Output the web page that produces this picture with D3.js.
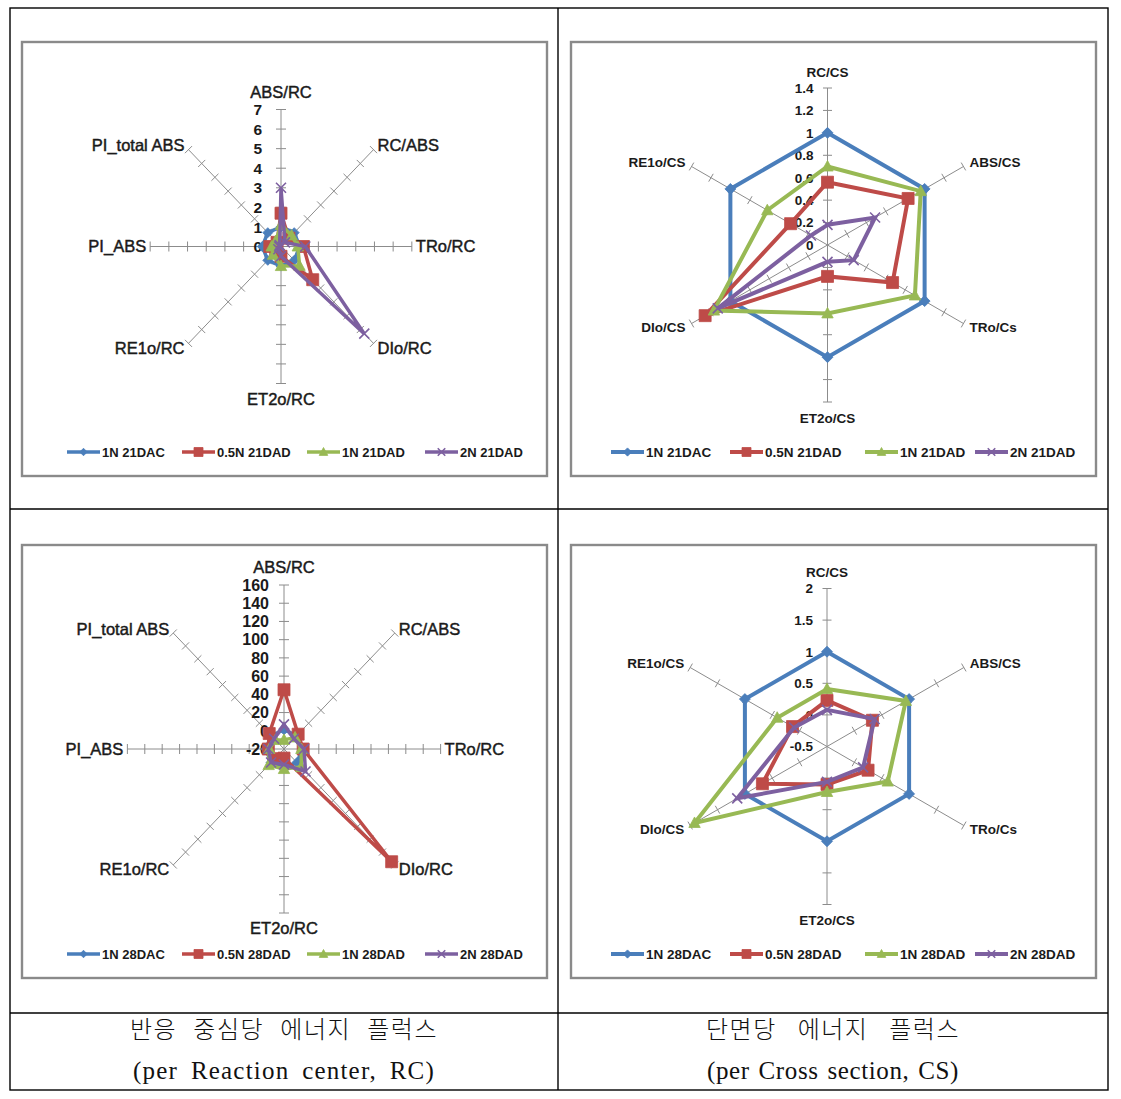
<!DOCTYPE html>
<html>
<head>
<meta charset="utf-8">
<script src="https://cdn.jsdelivr.net/npm/d3@7"></script>
<style>
  body { margin: 0; background: #fff; }
  svg { display: block; }
</style>
</head>
<body>
<svg id="chart" width="1121" height="1099"></svg>
<script>
// ---------------- DATA ----------------
const rcAxes = ["ABS/RC", "RC/ABS", "TRo/RC", "DIo/RC", "ET2o/RC", "RE1o/RC", "PI_ABS", "PI_total ABS"];
const csAxes = ["RC/CS", "ABS/CS", "TRo/Cs", "ET2o/CS", "DIo/CS", "RE1o/CS"];

const legend21 = ["1N 21DAC", "0.5N 21DAD", "1N 21DAD", "2N 21DAD"];
const legend28 = ["1N 28DAC", "0.5N 28DAD", "1N 28DAD", "2N 28DAD"];

const rcTicks21 = [0, 1, 2, 3, 4, 5, 6, 7];
const csTicks21 = [0, 0.2, 0.4, 0.6, 0.8, 1, 1.2, 1.4];
const rcTicks28 = [-20, 0, 20, 40, 60, 80, 100, 120, 140, 160];
const csTicks28 = [-0.5, 0, 0.5, 1, 1.5, 2];

// per reaction centre, 21 days
const rc21_1N_DAC  = [1, 1, 1, 1, 1, 1, 1, 1];
const rc21_05N_DAD = [1.7, 0.6, 1.2, 2.4, 0.5, 0.4, 0.6, 0.3];
const rc21_1N_DAD  = [1.1, 0.8, 0.9, 1.4, 1.0, 0.6, 0.5, 0.4];
const rc21_2N_DAD  = [3.0, 0.3, 1.3, 6.3, 0.5, 0.2, 0.1, 0.1];

// per cross section, 21 days
const cs21_1N_DAC  = [1, 1, 1, 1, 1, 1];
const cs21_05N_DAD = [0.56, 0.83, 0.67, 0.28, 1.26, 0.38];
const cs21_1N_DAD  = [0.70, 0.96, 0.90, 0.61, 1.17, 0.62];
const cs21_2N_DAD  = [0.18, 0.49, 0.27, 0.15, 1.13, 0.17];

// per reaction centre, 28 days
const rc28_1N_DAC  = [1, 1, 1, 1, 1, 1, 1, 1];
const rc28_05N_DAD = [45, 3, 2, 155, -10, -5, -2, 4];
const rc28_1N_DAD  = [-10, -2, 0, 8, 2, 5, -3, -6];
const rc28_2N_DAD  = [7, -4, 3, 15, -3, 1, -2, -4];

// per cross section, 28 days
const cs28_1N_DAC  = [1, 1, 1, 1, 1, 1];
const cs28_05N_DAD = [0.23, 0.33, 0.25, 0.10, 0.68, 0.13];
const cs28_1N_DAD  = [0.41, 0.94, 0.61, 0.22, 1.92, 0.41];
const cs28_2N_DAD  = [0.08, 0.37, 0.16, 0.06, 1.14, 0.10];

const captionLeft  = ["반응 중심당 에너지 플럭스", "(per Reaction center, RC)"];
const captionRight = ["단면당 에너지 플럭스", "(per Cross section, CS)"];

// ---------------- STYLE ----------------
const seriesColors = ["#4A7EBB", "#BE4B48", "#98B954", "#7D60A0"];
const markerTypes  = ["diamond", "square", "triangle", "x"];
const axisColor = "#8c8c8c";
const textColor = "#1a1a1a";
const sansFont = "Liberation Sans, Arial, sans-serif";

const svg = d3.select("#chart");

// ---------------- TABLE ----------------
const table = svg.append("g").attr("stroke", "#000").attr("stroke-width", 1.4).attr("fill", "none");
table.append("rect").attr("x", 10).attr("y", 8).attr("width", 1098).attr("height", 1082);
table.append("line").attr("x1", 558).attr("x2", 558).attr("y1", 8).attr("y2", 1090);
table.append("line").attr("x1", 10).attr("x2", 1108).attr("y1", 509).attr("y2", 509);
table.append("line").attr("x1", 10).attr("x2", 1108).attr("y1", 1013).attr("y2", 1013);

// ---------------- MARKERS ----------------
function markerPath(type, s) {
  if (type === "diamond") return `M0,${-s}L${s},0L0,${s}L${-s},0Z`;
  if (type === "square") return `M${-s},${-s}H${s}V${s}H${-s}Z`;
  if (type === "triangle") return `M0,${-s}L${s * 0.95},${s * 0.75}L${-s * 0.95},${s * 0.75}Z`;
  return `M${-s},${-s}L${s},${s}M${s},${-s}L${-s},${s}`;
}
function drawMarker(g, type, color, x, y, s) {
  const p = g.append("path").attr("d", markerPath(type, s)).attr("transform", `translate(${x},${y})`);
  if (type === "x") p.attr("fill", "none").attr("stroke", color).attr("stroke-width", 1.6);
  else p.attr("fill", color).attr("stroke", color).attr("stroke-width", 0.8);
}

// ---------------- RADAR ----------------
function drawRadar(cfg) {
  const g = svg.append("g");
  g.append("rect")
    .attr("x", cfg.frame[0]).attr("y", cfg.frame[1])
    .attr("width", cfg.frame[2] - cfg.frame[0]).attr("height", cfg.frame[3] - cfg.frame[1])
    .attr("fill", "#fff").attr("stroke", "#8a8a8a").attr("stroke-width", 2.4);

  const n = cfg.axes.length;
  const rScale = d3.scaleLinear().domain(d3.extent(cfg.ticks)).range([0, cfg.R]);
  const ang = i => i * 2 * Math.PI / n;
  const pt = (v, i) => [cfg.cx + cfg.sx * rScale(v) * Math.sin(ang(i)), cfg.cy - rScale(v) * Math.cos(ang(i))];
  const maxV = d3.max(cfg.ticks), minV = d3.min(cfg.ticks);

  const ax = g.append("g").attr("stroke", axisColor).attr("stroke-width", 1).attr("fill", "none");
  cfg.axes.forEach((a, i) => {
    const e = pt(maxV, i);
    ax.append("line").attr("x1", cfg.cx).attr("y1", cfg.cy).attr("x2", e[0]).attr("y2", e[1]);
    const th = ang(i);
    const dx = Math.cos(th), dy = Math.sin(th);
    cfg.ticks.forEach(t => {
      if (t === minV) return;
      const p = pt(t, i);
      const h = cfg.tickLen;
      ax.append("line")
        .attr("x1", p[0] - dx * h).attr("y1", p[1] - dy * h)
        .attr("x2", p[0] + dx * h).attr("y2", p[1] + dy * h);
    });
  });

  const tl = g.append("g").attr("font-family", sansFont).attr("font-size", cfg.tickSize)
    .attr("font-weight", "bold").attr("fill", textColor).attr("text-anchor", "end");
  cfg.ticks.forEach(t => {
    const p = pt(t, 0);
    tl.append("text").attr("x", cfg.cx - cfg.tickGap).attr("y", p[1]).attr("dy", "0.36em").text(String(t));
  });

  const lg = g.append("g").attr("font-family", sansFont).attr("font-size", cfg.labelSize)
    .attr("font-weight", cfg.labelWeight).attr("fill", textColor)
    .attr("stroke", textColor).attr("stroke-width", cfg.labelStroke);
  cfg.axes.forEach((a, i) => {
    const e = pt(maxV, i);
    const s = Math.sin(ang(i)), c = Math.cos(ang(i));
    let x, y, anchor;
    if (Math.abs(s) < 0.01) {
      anchor = "middle"; x = e[0];
      y = c > 0 ? e[1] - cfg.topOff : e[1] + cfg.botOff;
    } else {
      anchor = s > 0 ? "start" : "end";
      x = e[0] + (s > 0 ? cfg.sideGap : -cfg.sideGap);
      y = e[1] - c * cfg.diagOff;
    }
    lg.append("text").attr("x", x).attr("y", y).attr("dy", "0.36em").attr("text-anchor", anchor).text(a);
  });

  const line = d3.line().x(d => d[0]).y(d => d[1]);
  cfg.series.forEach((vals, si) => {
    const pts = vals.map((v, i) => pt(v, i));
    g.append("path").attr("d", line(pts) + "Z")
      .attr("fill", "none").attr("stroke", seriesColors[si]).attr("stroke-width", cfg.lineW)
      .attr("stroke-linejoin", "miter").attr("stroke-miterlimit", 6);
    pts.forEach(p => drawMarker(g, markerTypes[si], seriesColors[si], p[0], p[1], cfg.markerS[si]));
  });

  const leg = g.append("g");
  cfg.names.forEach((name, si) => {
    const lx = cfg.legendX[si], ly = cfg.legendY;
    leg.append("line").attr("x1", lx).attr("x2", lx + 33).attr("y1", ly).attr("y2", ly)
      .attr("stroke", seriesColors[si]).attr("stroke-width", cfg.lineW);
    drawMarker(leg, markerTypes[si], seriesColors[si], lx + 16.5, ly, cfg.markerS[si] * 0.75);
    leg.append("text").attr("x", lx + 35).attr("y", ly).attr("dy", "0.36em")
      .attr("font-family", sansFont).attr("font-size", cfg.legendSize).attr("font-weight", "bold")
      .attr("fill", textColor).text(name);
  });
}

const rcCommon = {
  R: 137, sx: 0.955, axes: rcAxes, tickLen: 5, tickSize: 15.5, tickGap: 19,
  labelSize: 16.5, labelWeight: "normal", labelStroke: 0.45, topOff: 17, botOff: 16, sideGap: 4, diagOff: 6,
  lineW: 3.5, markerS: [5, 6, 6, 5], legendSize: 13, legendX: [67, 182, 307, 425]
};
const csCommon = {
  R: 157, sx: 1, axes: csAxes, tickLen: 4.5, tickSize: 13.5, tickGap: 14,
  labelSize: 13.5, labelWeight: "bold", labelStroke: 0, topOff: 16, botOff: 16, sideGap: 6, diagOff: 8,
  lineW: 4, markerS: [5.5, 6, 6, 5], legendSize: 13.5, legendX: [611, 730, 865, 975]
};

drawRadar(Object.assign({}, rcCommon, {
  cx: 281, cy: 246.5, ticks: rcTicks21, frame: [22, 42, 547, 476], legendY: 452, names: legend21,
  series: [rc21_1N_DAC, rc21_05N_DAD, rc21_1N_DAD, rc21_2N_DAD]
}));
drawRadar(Object.assign({}, csCommon, {
  cx: 827.5, cy: 245, ticks: csTicks21, frame: [571, 42, 1096, 476], legendY: 452, names: legend21,
  series: [cs21_1N_DAC, cs21_05N_DAD, cs21_1N_DAD, cs21_2N_DAD]
}));
drawRadar(Object.assign({}, rcCommon, {
  cx: 284, cy: 749, R: 164, tickGap: 15, tickSize: 16, topOff: 18, botOff: 15,
  ticks: rcTicks28, frame: [22, 545, 547, 978], legendY: 954, names: legend28,
  series: [rc28_1N_DAC, rc28_05N_DAD, rc28_1N_DAD, rc28_2N_DAD]
}));
drawRadar(Object.assign({}, csCommon, {
  cx: 827, cy: 746.5, R: 158, ticks: csTicks28, frame: [571, 545, 1096, 978], legendY: 954, names: legend28,
  series: [cs28_1N_DAC, cs28_05N_DAD, cs28_1N_DAD, cs28_2N_DAD]
}));

// ---------------- CAPTIONS ----------------
function fitWords(textSel, target) {
  const node = textSel.node();
  const natural = node.getComputedTextLength();
  const spaces = (node.textContent.match(/ /g) || []).length;
  if (spaces > 0) textSel.attr("word-spacing", Math.max(0, (target - natural) / spaces));
}
function caption(lines, cx, widths, latinSpacing) {
  const g = svg.append("g").attr("fill", "#111").attr("text-anchor", "middle");
  const t1 = g.append("text").attr("x", cx).attr("y", 1038)
    .attr("font-family", "Noto Sans CJK KR, sans-serif").attr("font-size", 24).attr("font-weight", 300)
    .attr("letter-spacing", 1.5).text(lines[0]);
  fitWords(t1, widths[0]);
  const t2 = g.append("text").attr("x", cx).attr("y", 1079)
    .attr("font-family", "Liberation Serif, Times New Roman, serif").attr("font-size", 25)
    .attr("letter-spacing", latinSpacing).text(lines[1]);
  fitWords(t2, widths[1]);
}
caption(captionLeft, 284, [308, 302], 1.2);
caption(captionRight, 833, [254, 252], 0.6);
</script>
</body>
</html>
